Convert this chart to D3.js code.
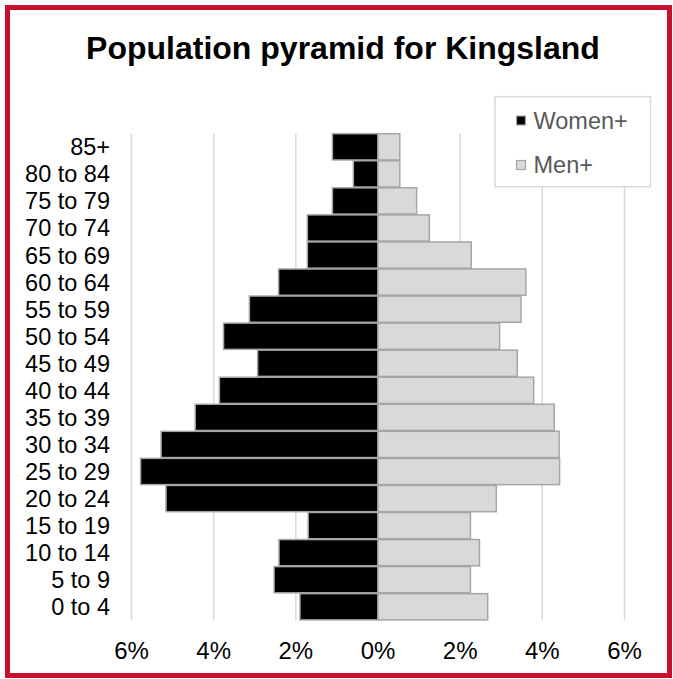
<!DOCTYPE html>
<html>
<head>
<meta charset="utf-8">
<script src="https://cdn.jsdelivr.net/npm/d3@7"></script>
<style>
  body { margin: 0; background: #fff; }
  text { font-family: "Liberation Sans", Arial, sans-serif; }
</style>
</head>
<body>
<div id="chart"></div>
<script>
// age groups, bottom to top as in the picture
const ageGroups = ["0 to 4", "5 to 9", "10 to 14", "15 to 19", "20 to 24", "25 to 29",
    "30 to 34", "35 to 39", "40 to 44", "45 to 49", "50 to 54", "55 to 59",
    "60 to 64", "65 to 69", "70 to 74", "75 to 79", "80 to 84", "85+"];
// percent of population
const women = [1.90, 2.53, 2.41, 1.70, 5.16, 5.78, 5.28, 4.45, 3.86, 2.93,
    3.76, 3.13, 2.42, 1.72, 1.72, 1.11, 0.60, 1.11];
const men = [2.67, 2.25, 2.47, 2.25, 2.88, 4.42, 4.41, 4.29, 3.79, 3.39,
    2.96, 3.48, 3.60, 2.27, 1.25, 0.94, 0.53, 0.53];
const xTicks = [-6, -4, -2, 0, 2, 4, 6];
const seriesNames = ["Women+", "Men+"];

const W = 673, H = 679;
const svg = d3.select("#chart").append("svg")
    .attr("width", W)
    .attr("height", H);

svg.append("rect").attr("width", W).attr("height", H).attr("fill", "#fff");

const x = d3.scaleLinear().domain([-6, 6]).range([131.5, 624.5]);
const y = d3.scaleBand()
    .domain(ageGroups.slice().reverse())
    .range([133.3, 620.3])
    .paddingInner(0.03)
    .paddingOuter(0.015);

// gridlines
svg.append("g").selectAll("line")
    .data(xTicks)
    .enter().append("line")
    .attr("x1", d => x(d)).attr("x2", d => x(d))
    .attr("y1", 133.3).attr("y2", 620.3)
    .style("stroke", "#d9d9d9")
    .style("stroke-width", 1.5);

const rows = ageGroups.map((a, i) => ({ age: a, women: women[i], men: men[i] }));

// women bars (left)
svg.append("g").selectAll("rect")
    .data(rows)
    .enter().append("rect")
    .attr("x", d => x(-d.women))
    .attr("y", d => y(d.age))
    .attr("width", d => x(0) - x(-d.women))
    .attr("height", y.bandwidth())
    .style("fill", "#000")
    .style("stroke", "#a6a6a6")
    .style("stroke-width", 1.5);

// men bars (right)
svg.append("g").selectAll("rect")
    .data(rows)
    .enter().append("rect")
    .attr("x", x(0))
    .attr("y", d => y(d.age))
    .attr("width", d => x(d.men) - x(0))
    .attr("height", y.bandwidth())
    .style("fill", "#d9d9d9")
    .style("stroke", "#a6a6a6")
    .style("stroke-width", 1.5);

// category labels
svg.append("g").selectAll("text")
    .data(ageGroups)
    .enter().append("text")
    .attr("x", 110)
    .attr("y", d => y(d) + y.bandwidth() / 2)
    .attr("dy", "0.36em")
    .attr("text-anchor", "end")
    .style("font-size", "23.5px")
    .style("fill", "#000")
    .text(d => d);

// x tick labels, both sides positive
svg.append("g").selectAll("text")
    .data(xTicks)
    .enter().append("text")
    .attr("x", d => x(d))
    .attr("y", 659)
    .attr("text-anchor", "middle")
    .style("font-size", "24px")
    .style("fill", "#000")
    .text(d => d3.format("d")(Math.abs(d)) + "%");

// title
svg.append("text")
    .attr("x", 343)
    .attr("y", 59)
    .attr("text-anchor", "middle")
    .style("font-size", "32px")
    .style("font-weight", "bold")
    .style("fill", "#000")
    .text("Population pyramid for Kingsland");

// legend
const legend = svg.append("g");
legend.append("rect")
    .attr("x", 495).attr("y", 96.7)
    .attr("width", 155.5).attr("height", 90)
    .style("fill", "#fff")
    .style("stroke", "#d9d9d9")
    .style("stroke-width", 1.5);

const legendColors = ["#000", "#d9d9d9"];
seriesNames.forEach((name, i) => {
    const cy = 120.5 + i * 44.5;
    legend.append("rect")
        .attr("x", 516.5).attr("y", cy - 4.5)
        .attr("width", 9).attr("height", 9)
        .style("fill", legendColors[i])
        .style("stroke", "#a6a6a6")
        .style("stroke-width", 1.2);
    legend.append("text")
        .attr("x", 533.5).attr("y", cy)
        .attr("dy", "0.36em")
        .style("font-size", "23.5px")
        .style("fill", "#595959")
        .text(name);
});

// red frame
svg.append("rect")
    .attr("x", 7.5).attr("y", 7.5)
    .attr("width", 662).attr("height", 668)
    .style("fill", "none")
    .style("stroke", "#c8102e")
    .style("stroke-width", 5);
</script>
</body>
</html>
